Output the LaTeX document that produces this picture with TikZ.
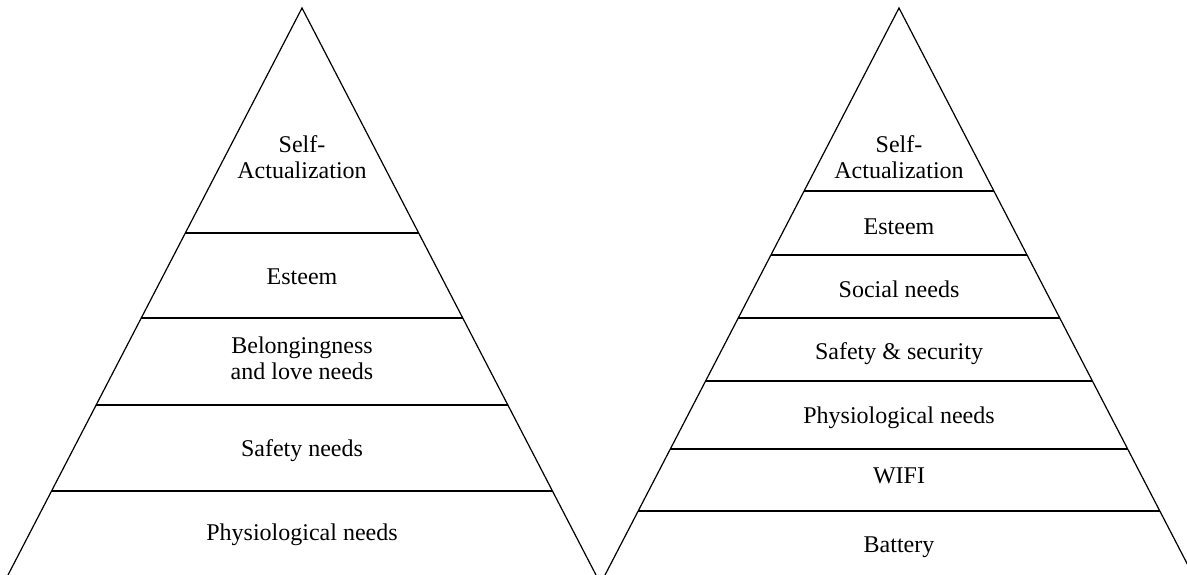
\documentclass[tikz,border=0pt]{standalone}
\usepackage{fontspec}
\setmainfont{Liberation Serif}
\usetikzlibrary{calc}
\begin{document}
\begin{tikzpicture}[x=1pt,y=-1pt,
  edge/.style={line width=1.2pt,black},
  level/.style={inner sep=0pt,font=\fontsize{24}{26}\selectfont},
  tier/.style={level,align=center,anchor=center}]
\useasboundingbox (0,0) rectangle (1187,575);
\clip (0,0) rectangle (1187,575);

% corner points of the two pyramids
\coordinate (LA) at (302,8);
\coordinate (LL) at (8,575);
\coordinate (LR) at (596,575);
\coordinate (RA) at (899,8);
\coordinate (RL) at (605,575);
\coordinate (RR) at (1193,575);

% slanted sides
\draw[edge] (LL) -- (LA) -- (LR);
\draw[edge] (RL) -- (RA) -- (RR);

% horizontal dividers, placed by their height below the apex
\foreach \yy in {233,318,405,491}{
  \pgfmathsetmacro{\t}{(\yy-8)/567}
  \draw[edge] ($(LA)!\t!(LL)$) -- ($(LA)!\t!(LR)$);
}
\foreach \yy in {191,255,318,381,449,511}{
  \pgfmathsetmacro{\t}{(\yy-8)/567}
  \draw[edge] ($(RA)!\t!(RL)$) -- ($(RA)!\t!(RR)$);
}

% left pyramid labels
\node[tier] (l1) at (302,157) {Self-\\Actualization};
\node[level,anchor=base] (l2) at (302,284) {Esteem};
\node[tier] (l3) at (302,358) {Belongingness\\and love needs};
\node[level,anchor=base] (l4) at (302,456) {Safety needs};
\node[level,anchor=base] (l5) at (302,540) {Physiological needs};

% right pyramid labels
\node[tier] (r1) at (899,157) {Self-\\Actualization};
\node[level,anchor=base] (r2) at (899,234) {Esteem};
\node[level,anchor=base] (r3) at (899,297) {Social needs};
\node[level,anchor=base] (r4) at (899,359) {Safety \& security};
\node[level,anchor=base] (r5) at (899,423) {Physiological needs};
\node[level,anchor=base] (r6) at (899,483) {WIFI};
\node[level,anchor=base] (r7) at (899,552) {Battery};
\end{tikzpicture}
\end{document}
